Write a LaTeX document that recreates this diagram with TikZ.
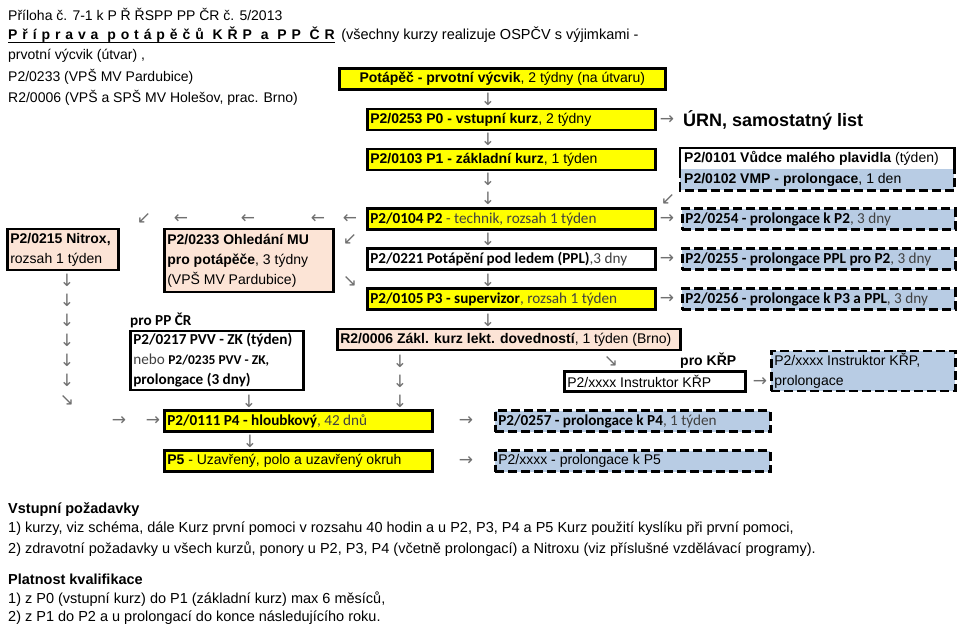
\documentclass[tikz,border=0pt]{standalone}
\usepackage{fontspec}
\setmainfont{Liberation Sans}
\newfontfamily\calfont{Carlito}
\newfontfamily\symfont{DejaVu Sans}
\definecolor{yel}{HTML}{FFFF00}
\definecolor{peach}{HTML}{FCE4D6}
\definecolor{blu}{HTML}{B8CCE4}
\definecolor{arrgray}{HTML}{707070}
\definecolor{txtgray}{HTML}{404040}
\newcommand{\ariz}{\fontsize{14}{20}\selectfont}
\newcommand{\calz}{\calfont\fontsize{15.2}{20}\selectfont}
\newcommand{\bottz}{\fontsize{14.5}{20}\selectfont}
\newcommand{\lbox}[2]{\makebox[#1pt][l]{#2}}
\tikzset{
  box/.style={draw=black, line width=2.6pt, anchor=west, inner xsep=3pt, inner ysep=0pt, align=left, font=\ariz},
  ybox/.style={box, fill=yel},
  wbox/.style={box, fill=white},
  pbox/.style={box, fill=peach},
  dbox/.style={box, fill=blu, dash pattern=on 9pt off 4pt},
  glyph/.style={font=\symfont\fontsize{17}{17}\selectfont, text=arrgray, inner sep=0pt},
  txt/.style={anchor=west, inner sep=0pt, font=\ariz},
  thickline/.style={line width=2.6pt},
  dashline/.style={line width=2.6pt, dash pattern=on 9pt off 4pt},
}
\begin{document}
\begin{tikzpicture}[x=1pt,y=-1pt]
\fill[white] (0,0) rectangle (957,630);
\useasboundingbox (0,0) rectangle (957,630);

% header
\node[txt] (h1) at (8,14) {Příloha č. 7-1 k P Ř ŘSPP PP ČR č. 5/2013};
\node[txt, font=\fontsize{14}{16}\selectfont\bfseries\addfontfeature{LetterSpace=35}] (title) at (8,35) {Příprava potápěčů KŘP a PP ČR};
\draw[line width=1.3pt] ([yshift=-2.5pt]title.base west) -- ([yshift=-2.5pt]title.base east);
\node[txt, anchor=base west, font=\fontsize{14.5}{16}\selectfont] (allc) at ([xshift=6pt]title.base east) {(všechny kurzy realizuje OSPČV s výjimkami -};
\node[txt] (h3) at (8,56) {prvotní výcvik (útvar) ,};
\node[txt] (h4) at (8,77) {P2/0233 (VPŠ MV Pardubice)};
\node[txt] (h5) at (8,98) {R2/0006 (VPŠ a SPŠ MV Holešov, prac. Brno)};

% main column
\node[ybox, minimum height=21pt] (pot) at (338,79) {\makebox[320pt][c]{\textbf{Potápěč - prvotní výcvik}, 2 týdny (na útvaru)}};
\node[ybox, minimum height=21pt] (p0) at (366,119.5) {\lbox{282}{\textbf{P2/0253 P0 - vstupní kurz}, 2 týdny}};
\node[ybox, minimum height=21pt] (p1) at (366,159.5) {\lbox{282}{\textbf{P2/0103 P1 - základní kurz}, 1 týden}};
\node[ybox, minimum height=21pt, font=\calz] (p2) at (366,219) {\lbox{282}{\textbf{P2/0104 P2} {\color{txtgray}- technik, rozsah 1 týden}}};
\node[wbox, minimum height=21pt, font=\calz] (ppl) at (366,259) {\lbox{282}{\textbf{P2/0221 Potápění pod ledem (PPL)}{\color{txtgray},3 dny}}};
\node[ybox, minimum height=21pt, font=\calz] (p3) at (366,299) {\lbox{282}{\textbf{P2/0105 P3 - supervizor}{\color{txtgray}, rozsah 1 týden}}};
\node[pbox, minimum height=21pt] (r2) at (336,339.5) {\lbox{337}{\textbf{R2/0006 Zákl. kurz lekt. dovedností}, 1 týden (Brno)}};

% URN
\node[txt, font=\fontsize{18}{20}\selectfont\bfseries] (urn) at (683,120) {ÚRN, samostatný list};

% VMP combined box
\node[inner sep=0pt, anchor=west, minimum width=274pt, minimum height=42pt] (vmp) at (680,169) {};
\fill[blu] (vmp.west) rectangle (vmp.south east);
\fill[white] (vmp.north west) rectangle (vmp.east);
\draw[thickline] (vmp.west) |- (vmp.north east) -- (vmp.east);
\draw[dashline] (vmp.west) |- (vmp.south east) -- (vmp.east);
\node[txt] (v1) at ([xshift=4pt,yshift=-10.5pt]vmp.north west) {\textbf{P2/0101 Vůdce malého plavidla} (týden)};
\node[txt] (v2) at ([xshift=4pt,yshift=10.5pt]vmp.south west) {\textbf{P2/0102 VMP - prolongace}, 1 den};

% right dashed column
\node[dbox, minimum height=21pt, font=\calz] (d254) at (681,219) {\lbox{267}{\textbf{P2/0254 - prolongace k P2}{\color{txtgray}, 3 dny}}};
\node[dbox, minimum height=21pt, font=\calz] (d255) at (681,259) {\lbox{267}{\textbf{P2/0255 - prolongace PPL pro P2}{\color{txtgray}, 3 dny}}};
\node[dbox, minimum height=21pt, font=\calz] (d256) at (681,299) {\lbox{267}{\textbf{P2/0256 - prolongace k P3 a PPL}{\color{txtgray}, 3 dny}}};

% left boxes
\node[pbox, minimum height=41pt] (nitrox) at (6,249.5) {\lbox{105}{\textbf{P2/0215 Nitrox,}}\\ \lbox{105}{rozsah 1 týden}};
\node[pbox, minimum height=63pt] (ohl) at (163,260.5) {\lbox{163}{\textbf{P2/0233 Ohledání MU}}\\ \lbox{163}{\textbf{pro potápěče}, 3 týdny}\\ \lbox{163}{(VPŠ MV Pardubice)}};
\node[txt, font=\calz\bfseries] (propp) at (130,320) {pro PP ČR};
\node[wbox, minimum height=59pt, font=\calz] (pvv) at (129,360.5) {\lbox{167}{\textbf{P2/0217 PVV - ZK (týden)}}\\ \lbox{167}{{\color{txtgray}nebo} {\fontsize{13.5}{20}\selectfont\bfseries P2/0235 PVV - ZK,}}\\ \lbox{167}{\textbf{prolongace (3 dny)}}};

% lower boxes
\node[ybox, minimum height=21pt, font=\calz] (p4) at (163,421) {\lbox{262}{\textbf{P2/0111 P4 - hloubkový}{\color{txtgray}, 42 dnů}}};
\node[ybox, minimum height=21pt] (p5) at (163,461) {\lbox{262}{\textbf{P5} - Uzavřený, polo a uzavřený okruh}};
\node[dbox, minimum height=21pt, font=\calz] (d257) at (494,421) {\lbox{269}{\textbf{P2/0257 - prolongace k P4}{\color{txtgray}, 1 týden}}};
\node[dbox, minimum height=21pt] (dp5) at (494,461) {\lbox{269}{P2/xxxx - prolongace k P5}};

% instructor
\node[txt, font=\ariz\bfseries] (prokrp) at (680,361) {pro KŘP};
\node[wbox, minimum height=20pt] (instr) at (563,381.5) {\lbox{175}{P2/xxxx Instruktor KŘP}};
\node[dbox, minimum height=40pt] (dinstr) at (770,371) {\lbox{178}{P2/xxxx Instruktor KŘP,}\\ \lbox{178}{prolongace}};

% arrow glyphs
\foreach \i/\y in {1/99,2/139,3/179,4/198,5/239,6/280,7/320}
  \node[glyph] (dm\i) at (488,\y) {↓};
\foreach \i/\y in {1/280,2/300,3/320,4/340,5/360,6/380}
  \node[glyph] (dl\i) at (67,\y) {↓};
\node[glyph] (dlx) at (67,400) {↘};
\foreach \i/\y in {1/361,2/381,3/401}
  \node[glyph] (dr\i) at (400,\y) {↓};
\node[glyph] (dpvv) at (249,401) {↓};
\node[glyph] (dp4) at (250,441) {↓};
\node[glyph] (rurn) at (667,120) {→};
\node[glyph] (dvmp) at (668,199) {↙};
\foreach \i/\y in {1/219,2/259,3/299}
  \node[glyph] (rr\i) at (667,\y) {→};
\foreach \i/\x in {1/350,2/318,3/248,4/181}
  \node[glyph] (lp\i) at (\x,219) {←};
\node[glyph] (lpd) at (144,218) {↙};
\node[glyph] (ppl1) at (350,239) {↙};
\node[glyph] (ppl2) at (350,281) {↘};
\node[glyph] (rp4a) at (119,421) {→};
\node[glyph] (rp4b) at (153,421) {→};
\node[glyph] (rp4c) at (466,421) {→};
\node[glyph] (rp5) at (466,461) {→};
\node[glyph] (dins) at (611,361) {↘};
\node[glyph] (rins) at (760,382) {→};

% bottom text
\node[txt, font=\bottz\bfseries] (vp) at (8,510) {Vstupní požadavky};
\node[txt, font=\bottz] (vp1) at (8,529) {1) kurzy, viz schéma, dále Kurz první pomoci v rozsahu 40 hodin a u P2, P3, P4 a P5 Kurz použití kyslíku při první pomoci,};
\node[txt, font=\bottz] (vp2) at (8,549) {2) zdravotní požadavky u všech kurzů, ponory u P2, P3, P4 (včetně prolongací) a Nitroxu (viz příslušné vzdělávací programy).};
\node[txt, font=\bottz\bfseries] (pk) at (8,579) {Platnost kvalifikace};
\node[txt, font=\bottz] (pk1) at (8,599) {1) z P0 (vstupní kurz) do P1 (základní kurz) max 6 měsíců,};
\node[txt, font=\bottz] (pk2) at (8,618) {2) z P1 do P2 a u prolongací do konce následujícího roku.};
\end{tikzpicture}
\end{document}
